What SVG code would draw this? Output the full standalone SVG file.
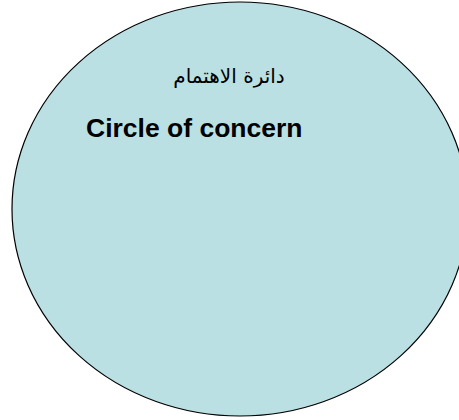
<svg xmlns="http://www.w3.org/2000/svg" width="459" height="420" viewBox="0 0 459 420">
<style>
.circle{fill:#BAE0E4;stroke:#000;stroke-width:1.2}
.ar{font-family:"DejaVu Sans",sans-serif;font-size:20px;fill:#000}
.en{font-family:"Liberation Sans",Arial,sans-serif;font-size:26.5px;font-weight:bold;fill:#000}
</style>
<rect width="459" height="420" fill="#fff"/>
<g id="circle-of-concern">
<ellipse class="circle" cx="240" cy="209" rx="228" ry="207"/>
<text class="ar" x="229" y="83" text-anchor="middle" direction="rtl">دائرة الاهتمام</text>
<text class="en" x="86" y="137">Circle of concern</text>
</g>
</svg>
